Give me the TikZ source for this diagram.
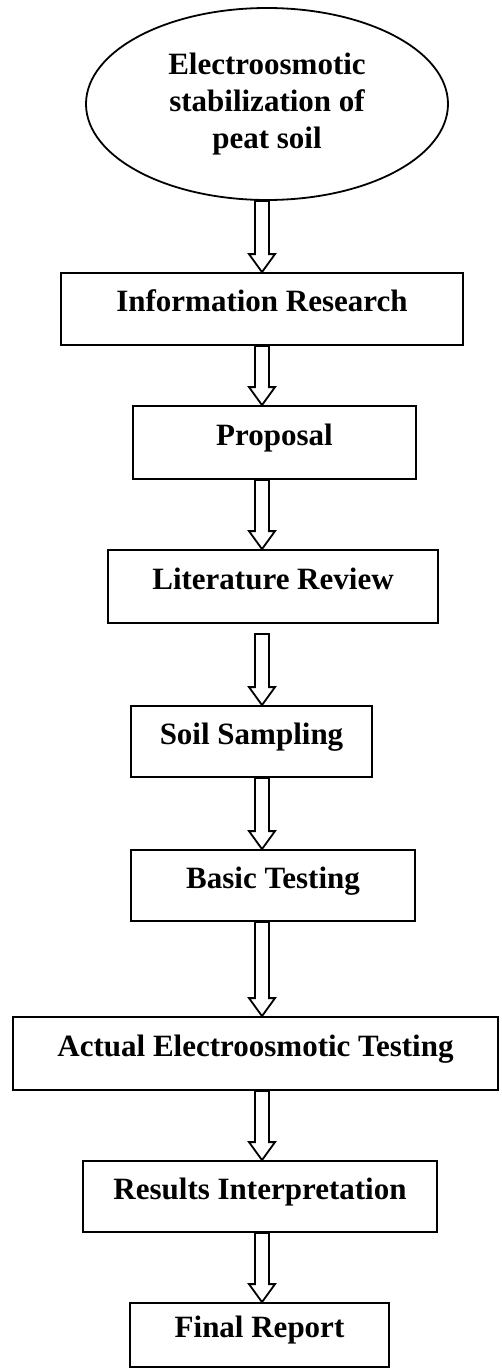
\documentclass[tikz,border=0pt]{standalone}
\usepackage{fontspec}
\setmainfont{Liberation Serif}
\usetikzlibrary{shapes.geometric,calc}
\tikzset{
  stepbox/.style={draw, line width=1.8pt, rectangle, inner sep=0pt,
    font=\bfseries\fontsize{31}{37}\selectfont, text height=0.7em, text depth=0.2em},
  startoval/.style={draw, line width=1.8pt, ellipse, inner sep=0pt, align=center,
    font=\bfseries\fontsize{31}{37}\selectfont},
  barrow/.style={draw, line width=1.8pt, fill=white, line join=miter}
}
\newcommand{\flowarrow}[2]{%
  \draw[barrow] let \p1=(#1), \p2=(#2) in
    (\x1-7pt,\y1) -- (\x1-7pt,\y2+18pt) -- (\x1-13pt,\y2+18pt) -- (\x2,\y2)
    -- (\x1+13pt,\y2+18pt) -- (\x1+7pt,\y2+18pt) -- (\x1+7pt,\y1) -- cycle;}
\begin{document}
\begin{tikzpicture}[x=1pt,y=-1pt]
\useasboundingbox (0,0) rectangle (501,1370);
\coordinate (ax) at (262,0);
\node[startoval, minimum width=362pt, minimum height=192pt] (ell) at (267,104)
  {Electroosmotic\\stabilization of\\peat soil};
\node[stepbox, minimum width=402pt, minimum height=72pt] (info) at (262,309) {Information Research};
\node[stepbox, minimum width=283pt, minimum height=73pt] (prop) at (274.5,442.5) {Proposal};
\node[stepbox, minimum width=330pt, minimum height=73pt] (lit) at (273,586.5) {Literature Review};
\node[stepbox, minimum width=241pt, minimum height=71pt] (soil) at (251.5,741.5) {Soil Sampling};
\node[stepbox, minimum width=284pt, minimum height=71pt] (basic) at (273,885.5) {Basic Testing};
\node[stepbox, minimum width=485pt, minimum height=73pt] (actual) at (255.5,1053.5) {Actual Electroosmotic Testing};
\node[stepbox, minimum width=354pt, minimum height=71pt] (results) at (260,1196.5) {Results Interpretation};
\node[stepbox, minimum width=259pt, minimum height=64pt] (final) at (259.5,1335) {Final Report};
\coordinate (s1) at (ell.south -| ax);
\coordinate (s4) at ($(lit.south -| ax)+(0,10)$);
\flowarrow{s1}{info.north -| ax}
\flowarrow{info.south -| ax}{prop.north -| ax}
\flowarrow{prop.south -| ax}{lit.north -| ax}
\flowarrow{s4}{soil.north -| ax}
\flowarrow{soil.south -| ax}{basic.north -| ax}
\flowarrow{basic.south -| ax}{actual.north -| ax}
\flowarrow{actual.south -| ax}{results.north -| ax}
\flowarrow{results.south -| ax}{final.north -| ax}
\end{tikzpicture}
\end{document}
